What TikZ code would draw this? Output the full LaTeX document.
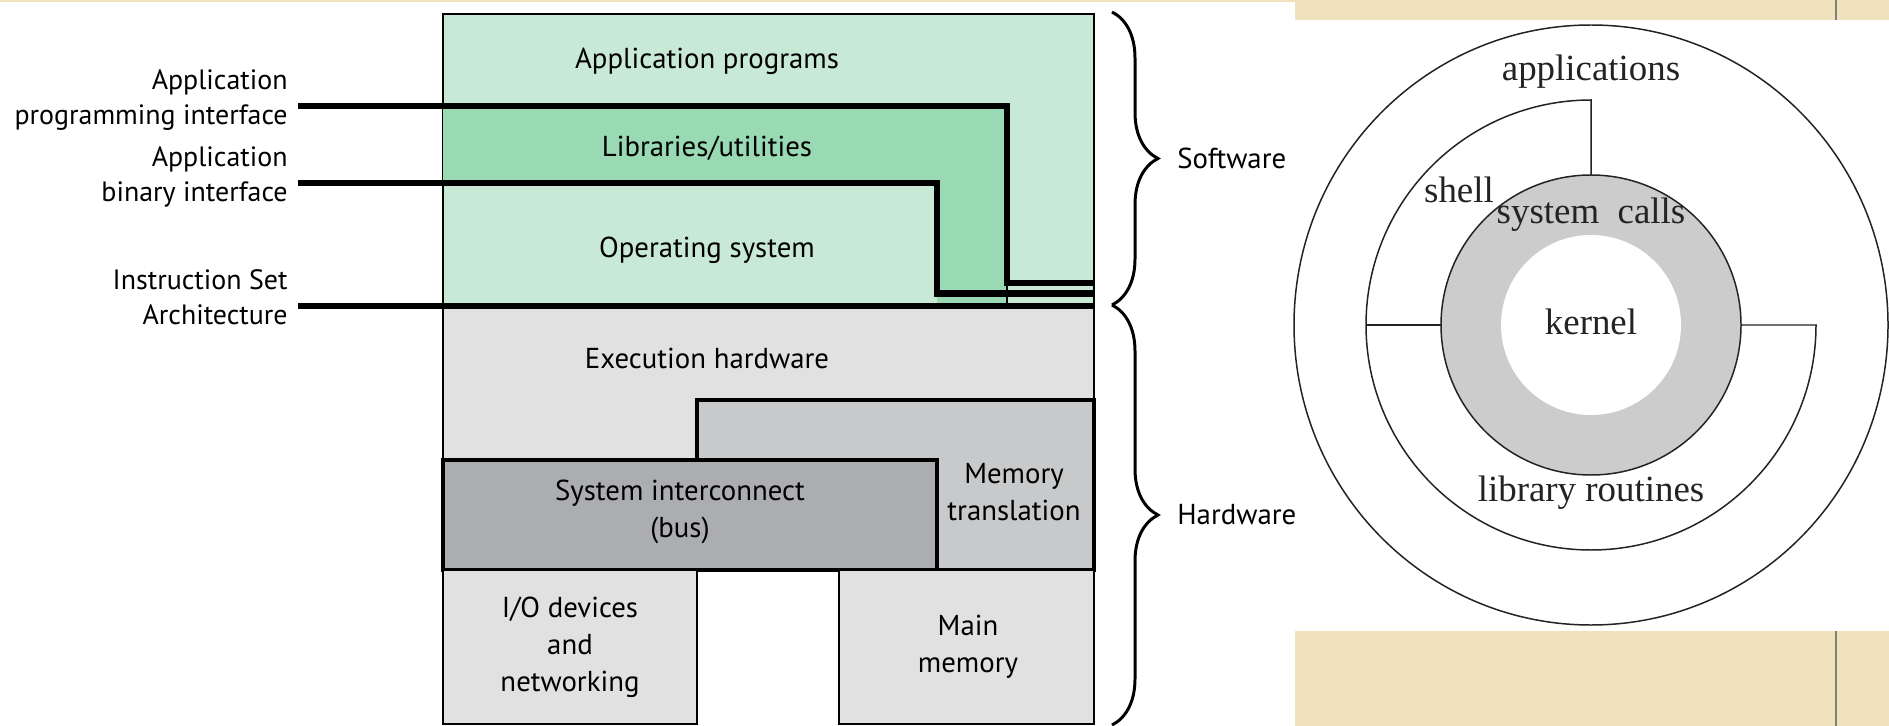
\documentclass[tikz,border=0pt]{standalone}
\usepackage{fontspec}
\setmainfont{Liberation Serif}
\newfontfamily\figsans{PT Sans}
\usetikzlibrary{decorations.pathreplacing}

\definecolor{appgreen}{RGB}{200,233,214}
\definecolor{libgreen}{RGB}{153,217,179}
\definecolor{hwgray}{RGB}{225,225,225}
\definecolor{mtgray}{RGB}{200,201,203}
\definecolor{busgray}{RGB}{172,173,176}
\definecolor{ringgray}{RGB}{204,204,204}
\definecolor{slidebg}{RGB}{241,226,190}
\definecolor{inkgray}{RGB}{35,35,35}

\tikzset{
  layer/.style={draw=black, line width=1.4pt},
  thicklayer/.style={draw=black, line width=2.3pt},
  iface/.style={line width=3.7pt},
  blocktext/.style={font=\figsans\fontsize{16.4}{21}\selectfont, align=center, inner sep=0pt},
  sidetext/.style={font=\figsans\fontsize{15.9}{20}\selectfont, align=right, anchor=east, inner sep=0pt},
  hwbrace/.style={decorate, decoration={brace, amplitude=0.92cm}, line width=1.7pt},
  ring/.style={draw=inkgray, line width=0.85pt},
  ringtext/.style={font=\fontsize{21}{25}\selectfont, text=inkgray, inner sep=0pt},
}

\begin{document}
\begin{tikzpicture}[x=0.02cm, y=-0.02cm]
\useasboundingbox (0,0) rectangle (1889,726);
\fill[white] (0,0) rectangle (1889,726);
% slide background
\fill[slidebg] (0,0) rectangle (1295,2.5);
\fill[slidebg] (1295,0) rectangle (1889,20);
\fill[slidebg] (1295,631) rectangle (1889,726);
\draw[gray, line width=0.6pt] (1836,0) -- (1836,20) (1836,631) -- (1836,726);

% software layers
\filldraw[fill=appgreen, layer] (443,14) rectangle (1094,306);
\fill[libgreen] (443,106) -- (1007,106) -- (1007,306) -- (937,306) -- (937,183) -- (443,183) -- cycle;

% hardware layers
\filldraw[fill=hwgray, layer] (443,306) rectangle (1094,570);
\filldraw[fill=mtgray, thicklayer] (697,400) rectangle (1094,570);
\filldraw[fill=busgray, thicklayer] (443,460) rectangle (937,570);
\filldraw[fill=hwgray, layer] (443,570) rectangle (697,724);
\filldraw[fill=hwgray, layer] (839,570) rectangle (1094,724);

% interfaces
\coordinate (apiL) at (298,106);
\coordinate (apiR) at (1094,283);
\coordinate (abiL) at (298,183);
\coordinate (abiR) at (1094,293.5);
\coordinate (isaL) at (298,306);
\coordinate (isaR) at (1094,306);
\draw[iface] (apiL) -- (1007,106) -- (1007,283) -- (apiR);
\draw[iface] (abiL) -- (937,183) -- (937,293.5) -- (abiR);
\draw[line width=1pt] (1007,283) -- (1007,306);
\draw[iface] (isaL) -- (isaR);

\node[blocktext] (apps) at (707,61) {Application programs};
\node[blocktext] (libs) at (707,148) {Libraries/utilities};
\node[blocktext] (os) at (707,250) {Operating system};
\node[blocktext] (exec) at (707,358) {Execution hardware};
\node[blocktext] (bus) at (680,512) {System interconnect\\(bus)};
\node[blocktext] (mmu) at (1014,492) {Memory\\translation};
\node[blocktext] (io) at (570,647) {I/O devices\\and\\networking};
\node[blocktext] (mem) at (968,647) {Main\\memory};

\node[sidetext] (api) at (288,100) {Application\\programming interface};
\node[sidetext] (abi) at (288,177) {Application\\binary interface};
\node[sidetext] (isa) at (288,297) {Instruction Set\\Architecture};

% software / hardware
\draw[hwbrace] (1112,12) -- (1112,305);
\draw[hwbrace] (1112,305) -- (1112,725);
\node[blocktext, anchor=west] (sw) at (1177,158) {Software};
\node[blocktext, anchor=west] (hw) at (1177,515) {Hardware};

% unix rings
\fill[white] (1295,20) rectangle (1889,631);
\coordinate (ctr) at (1591,325);
\draw[ring] (ctr) ellipse [x radius=297, y radius=300];
\draw[ring] (1366,325) arc [start angle=180, end angle=270, radius=225] -- (1591,175);
\draw[ring] (1366,325) arc [start angle=180, end angle=0, radius=225] -- (1742,325);
\draw[ring] (1366,325) -- (1441,325);
\filldraw[fill=ringgray, ring] (ctr) circle [radius=150];
\fill[white] (ctr) circle [radius=90];

\node[ringtext] (apps2) at (1591,72) {applications};
\node[ringtext] (shell) at (1459,190) {shell};
\node[ringtext] (calls) at (1591,215) {system\ \ calls};
\node[ringtext] (kern) at (1591,322) {kernel};
\node[ringtext] (libr) at (1591,493) {library routines};
\end{tikzpicture}
\end{document}
